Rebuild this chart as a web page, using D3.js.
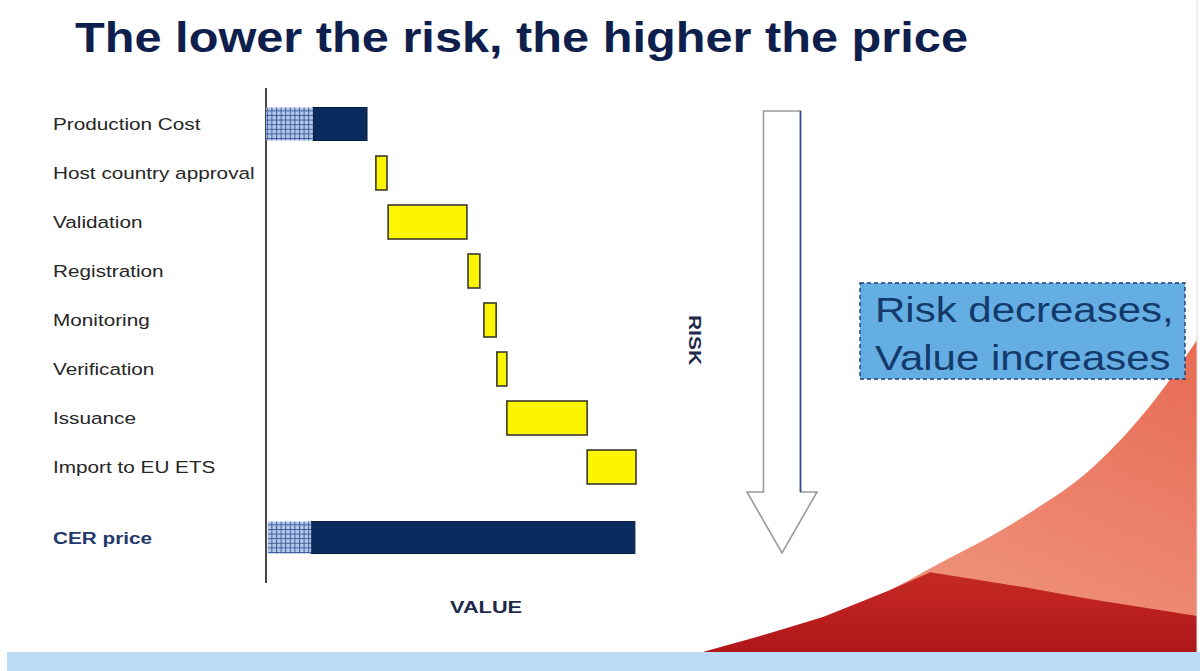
<!DOCTYPE html>
<html>
<head>
<meta charset="utf-8">
<script src="https://cdn.jsdelivr.net/npm/d3@7"></script>
<style>
  body { margin: 0; background: #ffffff; }
  svg { display: block; font-family: "Liberation Sans", Arial, Helvetica, sans-serif; }
</style>
</head>
<body>
<svg id="chart" width="1200" height="671"></svg>
<script>
// ---- Data -------------------------------------------------------------
// Row labels, top to bottom (the last one is the resulting price row)
const rowLabels = ["Production Cost", "Host country approval", "Validation", "Registration",
                   "Monitoring", "Verification", "Issuance", "Import to EU ETS"];
const priceLabel = "CER price";

// Value added at each step of the CER life-cycle (start and end on the value axis)
const stepNames = ["Host country approval", "Validation", "Registration",
                   "Monitoring", "Verification", "Issuance", "Import to EU ETS"];
const stepStart = [29.7, 33.0, 54.6, 58.9, 62.4, 65.1, 86.8];
const stepEnd   = [32.7, 54.3, 57.8, 62.2, 65.1, 86.8, 100.0];

// Base bars: production cost and final CER price (hatched part = risk premium share)
const baseNames    = ["Production Cost", "CER price"];
const baseStart    = [0, 0.5];
const baseHatchEnd = [12.7, 12.2];
const baseEnd      = [27.3, 99.7];

// Decorative "value grows as risk falls" curves (normalised 0..1 coordinates)
const valueCurveT = [0, 0.109, 0.243, 0.379, 0.480, 0.581, 0.648, 0.783, 0.919, 1.0];
const valueCurveV = [0, 0.048, 0.112, 0.199, 0.285, 0.369, 0.433, 0.583, 0.817, 1.0];
const riskCurveT  = [0, 0.109, 0.243, 0.379, 0.460, 0.648, 0.783, 1.0];
const riskCurveV  = [0, 0.048, 0.112, 0.199, 0.256, 0.208, 0.170, 0.115];

// ---- Layout -------------------------------------------------------------
const svg = d3.select("#chart");
const defs = svg.append("defs");

const x = d3.scaleLinear().domain([0, 100]).range([266, 636]);
const y = d3.scaleBand().domain(rowLabels).range([99.5, 99.5 + 49 * rowLabels.length]);
const rowCenter = name => name === priceLabel
  ? y(rowLabels[rowLabels.length - 1]) + y.bandwidth() / 2 + y.step() * 1.44
  : y(name) + y.bandwidth() / 2;

const textStretch = 1.22;

// Grid fill for the risk share of the base bars
const pat = defs.append("pattern").attr("id", "grid")
  .attr("width", 4.6).attr("height", 4.6).attr("patternUnits", "userSpaceOnUse");
pat.append("rect").attr("width", 4.6).attr("height", 4.6).attr("fill", "#b3c7ea");
pat.append("path").attr("d", "M0.5 0V4.6M0 0.5H4.6")
  .attr("stroke", "#3d5c99").attr("stroke-width", 1);

// Gradients for the decorative curves
const gSalmon = defs.append("linearGradient").attr("id", "salmon")
  .attr("x1", "100%").attr("y1", "0%").attr("x2", "30%").attr("y2", "100%");
gSalmon.append("stop").attr("offset", "0%").attr("stop-color", "#e86a52");
gSalmon.append("stop").attr("offset", "100%").attr("stop-color", "#f19c86");
const gRed = defs.append("linearGradient").attr("id", "darkred")
  .attr("x1", "0%").attr("y1", "0%").attr("x2", "0%").attr("y2", "100%");
gRed.append("stop").attr("offset", "0%").attr("stop-color", "#c52a24");
gRed.append("stop").attr("offset", "100%").attr("stop-color", "#b0161a");

// ---- Background decoration -------------------------------------------
svg.append("rect").attr("x", 0).attr("y", 0).attr("width", 1200).attr("height", 671).attr("fill", "#ffffff");

const dx = d3.scaleLinear().domain([0, 1]).range([703, 1197]);
const dy = d3.scaleLinear().domain([0, 1]).range([652, 340]);
const area = d3.area().x(d => dx(d[0])).y0(dy(0)).y1(d => dy(d[1])).curve(d3.curveMonotoneX);
svg.append("path").datum(d3.zip(valueCurveT, valueCurveV)).attr("d", area).attr("fill", "url(#salmon)");
svg.append("path").datum(d3.zip(riskCurveT, riskCurveV))
  .attr("d", area.curve(d3.curveLinear)).attr("fill", "url(#darkred)");

// Bottom band and right frame line
svg.append("rect").attr("x", 7).attr("y", 652).attr("width", 1193).attr("height", 19).attr("fill", "#bcdcf6");
svg.append("line").attr("x1", 1197).attr("x2", 1197).attr("y1", 0).attr("y2", 652)
  .attr("stroke", "#dcdcdc").attr("stroke-width", 1);

// ---- Title -------------------------------------------------------------
svg.append("text").attr("x", 75).attr("y", 52)
  .attr("font-size", 42).attr("font-weight", "bold").attr("fill", "#0f1f4d")
  .attr("textLength", 893).attr("lengthAdjust", "spacingAndGlyphs")
  .text("The lower the risk, the higher the price");

// ---- Value axis --------------------------------------------------------
svg.append("line").attr("x1", x(0)).attr("x2", x(0)).attr("y1", 88).attr("y2", 583)
  .attr("stroke", "#1a1a1a").attr("stroke-width", 1.6);

svg.append("text")
  .attr("transform", "translate(450,613) scale(1.28,1)")
  .attr("font-size", 17).attr("font-weight", "bold").attr("fill", "#1f2a4a")
  .text("VALUE");

// ---- Row labels --------------------------------------------------------
svg.append("g").selectAll("text").data(rowLabels).join("text")
  .attr("transform", d => `translate(53,${rowCenter(d) + 6}) scale(${textStretch},1)`)
  .attr("font-size", 17).attr("fill", "#262626")
  .text(d => d);

svg.append("text")
  .attr("transform", `translate(53,${rowCenter(priceLabel) + 6}) scale(${textStretch},1)`)
  .attr("font-size", 17).attr("font-weight", "bold").attr("fill", "#24396b")
  .text(priceLabel);

// ---- Base bars (production cost, CER price) ----------------------------
const baseH = [33, 32];
const base = svg.append("g");
baseNames.forEach((name, i) => {
  const cy = rowCenter(name);
  base.append("rect")
    .attr("x", x(baseHatchEnd[i])).attr("y", cy - baseH[i] / 2)
    .attr("width", x(baseEnd[i]) - x(baseHatchEnd[i])).attr("height", baseH[i])
    .attr("fill", "#0a2b5e").attr("stroke", "#0a1d40").attr("stroke-width", 1);
  base.append("rect")
    .attr("x", x(baseStart[i])).attr("y", cy - baseH[i] / 2)
    .attr("width", x(baseHatchEnd[i]) - x(baseStart[i])).attr("height", baseH[i])
    .attr("fill", "url(#grid)");
});

// ---- Step bars -----------------------------------------------------------
const stepH = 34;
svg.append("g").selectAll("rect").data(stepNames).join("rect")
  .attr("x", (d, i) => x(stepStart[i]))
  .attr("y", d => rowCenter(d) - stepH / 2)
  .attr("width", (d, i) => x(stepEnd[i]) - x(stepStart[i]))
  .attr("height", stepH)
  .attr("fill", "#fbf600").attr("stroke", "#3a3a2a").attr("stroke-width", 1.6);

// ---- Risk arrow ------------------------------------------------------------
const ax = 782, aTop = 111, aShaft = 492, aTip = 553, sHalf = 18.5, hHalf = 35;
svg.append("path")
  .attr("d", `M${ax - sHalf},${aTop} H${ax + sHalf} V${aShaft} H${ax + hHalf} L${ax},${aTip} L${ax - hHalf},${aShaft} H${ax - sHalf} Z`)
  .attr("fill", "#ffffff").attr("stroke", "#9a9a9a").attr("stroke-width", 1.6);
svg.append("line").attr("x1", ax + sHalf).attr("x2", ax + sHalf).attr("y1", aTop).attr("y2", aShaft)
  .attr("stroke", "#2b4a9c").attr("stroke-width", 1.6);

svg.append("text")
  .attr("transform", "translate(689,340) rotate(90)")
  .attr("text-anchor", "middle")
  .attr("font-size", 16).attr("font-weight", "bold").attr("fill", "#1f2a4a")
  .attr("textLength", 50).attr("lengthAdjust", "spacingAndGlyphs")
  .text("RISK");

// ---- Call-out box ------------------------------------------------------------
svg.append("rect").attr("x", 860).attr("y", 283).attr("width", 325).attr("height", 96)
  .attr("fill", "#64aee3").attr("stroke", "#1f3d70").attr("stroke-width", 1.4)
  .attr("stroke-dasharray", "4,3");
["Risk decreases,", "Value increases"].forEach((t, i) => {
  svg.append("text")
    .attr("transform", `translate(875,${322 + i * 48}) scale(1.2,1)`)
    .attr("font-size", 35).attr("fill", "#143a6b")
    .text(t);
});
</script>
</body>
</html>
